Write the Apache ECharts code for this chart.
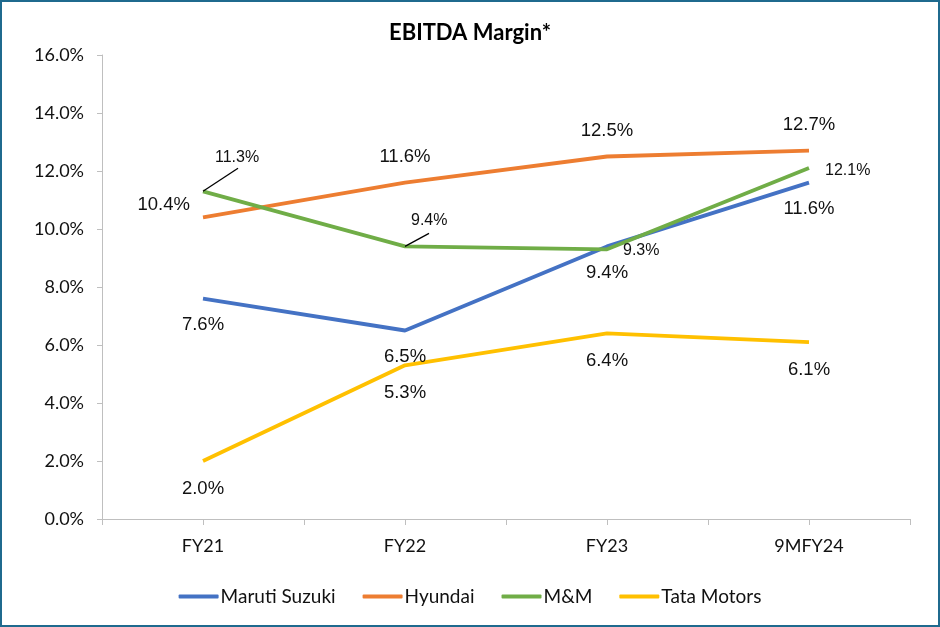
<!DOCTYPE html>
<html>
<head>
<meta charset="utf-8">
<script src="https://cdn.jsdelivr.net/npm/echarts@6/dist/echarts.min.js"></script>
<style>
html,body{margin:0;padding:0;background:#fff;}
#wrap{position:absolute;left:0;top:0;width:936px;height:623px;border:2px solid #1F6A8E;}
#chart{width:936px;height:623px;}
</style>
</head>
<body>
<div id="wrap"><div id="chart"></div></div>
<script>
var categories = ['FY21', 'FY22', 'FY23', '9MFY24'];
var maruti = [7.6, 6.5, 9.4, 11.6];
var hyundai = [10.4, 11.6, 12.5, 12.7];
var mm = [11.3, 9.4, 9.3, 12.1];
var tata = [2.0, 5.3, 6.4, 6.1];
var seriesNames = ['Maruti Suzuki', 'Hyundai', 'M&M', 'Tata Motors'];
var colors = ['#4472C4', '#ED7D31', '#70AD47', '#FFC000'];

var axisFont = 'Lato, "Open Sans", sans-serif';
var labelFont = '"Liberation Sans", Arial, sans-serif';

var chart = echarts.init(document.getElementById('chart'));

function fmt(p){ return Number(p.value).toFixed(1)+'%'; }
function baseLabel(pos, size, dist){
  return {show:true, position:pos, distance:dist, formatter:fmt,
          color:'#111', fontSize:size, fontFamily:labelFont};
}

// per-point label placement (styling only)
var mmLabelOffsets = [[12,-34],[6,-26],[16,1],[16,2]];
var mmData = mm.map(function(v,i){
  return {value:v, label:{position:'right', distance:0, offset:mmLabelOffsets[i]}};
});
var hyData = hyundai.map(function(v,i){
  if(i===0) return {value:v, label:{position:'left', distance:13, offset:[0,-12]}};
  return {value:v};
});

// leader line ends (pixel offsets from the data point), styling only
var leaderEnds = [[35,-23],[24,-13]];

function mkSeries(idx, data, label, extra){
  var s = {name:seriesNames[idx], type:'line', data:data, symbol:'circle', symbolSize:0.01, showSymbol:true,
    lineStyle:{color:colors[idx], width:3.8}, itemStyle:{color:colors[idx]}, label:label};
  for(var k in extra) s[k]=extra[k];
  return s;
}

var option = {
  animation:false,
  title:{text:'EBITDA Margin*', left:'center', top:15,
    textStyle:{fontFamily:axisFont, fontWeight:'bold', fontSize:22, color:'#000'}},
  grid:{left:100, right:28, top:53, bottom:106},
  legend:{bottom:14, left:'center', itemWidth:40, itemHeight:4, itemGap:27, icon:'roundRect',
    textStyle:{fontFamily:axisFont, fontSize:19, color:'#111', padding:[0,0,0,-3]},
    data:seriesNames.map(function(n,i){return {name:n, itemStyle:{color:colors[i]}};})},
  xAxis:[{
    type:'category', data:categories, boundaryGap:true,
    axisLine:{lineStyle:{color:'#BFBFBF', width:1}},
    axisTick:{show:true, length:6, lineStyle:{color:'#BFBFBF'}},
    axisLabel:{fontFamily:axisFont, fontSize:18, color:'#111', margin:18}
  },{
    type:'category', data:categories, boundaryGap:true, position:'bottom',
    axisLine:{show:false},
    axisTick:{show:true, alignWithLabel:true, length:6, lineStyle:{color:'#BFBFBF'}},
    axisLabel:{show:false}
  }],
  yAxis:{type:'value', min:0, max:16, interval:2,
    axisLine:{show:true, lineStyle:{color:'#BFBFBF'}},
    axisTick:{show:true, length:5, lineStyle:{color:'#BFBFBF'}},
    splitLine:{show:false},
    axisLabel:{fontFamily:axisFont, fontSize:18, color:'#111', margin:18,
      formatter:function(v){return v.toFixed(1)+'%';}}
  },
  series:[
    mkSeries(0, maruti, baseLabel('bottom',18.5,17), {z:3}),
    mkSeries(1, hyData, baseLabel('top',18.5,16), {z:2}),
    mkSeries(2, mmData, baseLabel('right',16,0), {z:4}),
    mkSeries(3, tata, baseLabel('bottom',18.5,18), {z:1}),
    {type:'custom', silent:true, z:5, legendHoverLink:false,
     data:[[0, mm[0]],[1, mm[1]]],
     renderItem:function(params, api){
       var p = api.coord([api.value(0), api.value(1)]);
       var e = leaderEnds[params.dataIndex];
       return {type:'line', shape:{x1:p[0], y1:p[1], x2:p[0]+e[0], y2:p[1]+e[1]},
         style:{stroke:'#000', lineWidth:1.3}};
     }}
  ]
};
chart.setOption(option);
</script>
</body>
</html>
